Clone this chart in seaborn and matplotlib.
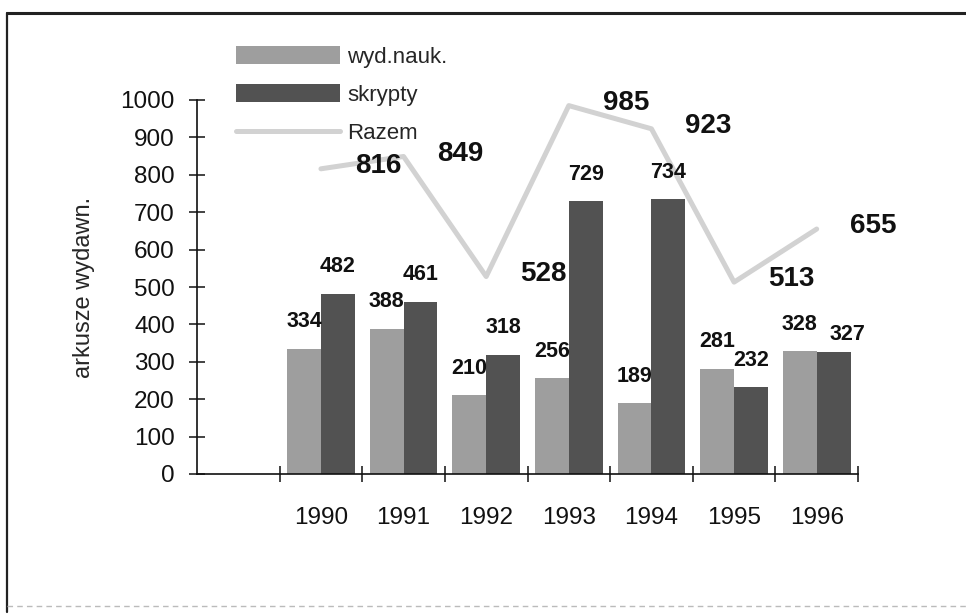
import matplotlib
matplotlib.use('Agg')
import numpy as np
import pandas as pd
import matplotlib.pyplot as plt
from matplotlib.lines import Line2D
import seaborn as sns

# values
years = ['1990', '1991', '1992', '1993', '1994', '1995', '1996']
wyd_nauk = [334, 388, 210, 256, 189, 281, 328]
skrypty = [482, 461, 318, 729, 734, 232, 327]
razem = [816, 849, 528, 985, 923, 513, 655]
series_names = ['wyd.nauk.', 'skrypty']
y_ticks = list(range(0, 1001, 100))

df = pd.DataFrame({
    'rok': years * 2,
    'seria': [series_names[0]] * len(years) + [series_names[1]] * len(years),
    'arkusze': wyd_nauk + skrypty,
})

sns.set_theme(style='white', rc={'axes.linewidth': 1.2})
plt.rcParams['font.family'] = ['Liberation Sans', 'DejaVu Sans']

W, H = 966, 614
fig = plt.figure(figsize=(W / 100, H / 100), dpi=100)
ax = fig.add_axes([197 / W, 1 - 474 / H, (858 - 197) / W, (474 - 100) / H])

sns.barplot(
    data=df, x='rok', y='arkusze', hue='seria', order=years,
    hue_order=series_names, palette=['#9e9e9e', '#525252'],
    saturation=1, width=0.82, errorbar=None, ax=ax, legend=True,
    linewidth=0,
)
label_sets = []
for cont in ax.containers:
    label_sets.append(ax.bar_label(cont, padding=12, fontsize=15.5,
                                   fontweight='bold', color='#111111'))
# the last dark label sits lower and to the right in the original
label_sets[1][-1].xyann = (10, 5)

pos = np.arange(len(years))
sns.lineplot(x=pos, y=razem, color='#cdcdcd', linewidth=3.6, alpha=0.9,
             label='Razem', ax=ax, zorder=1)
for x, v in zip(pos, razem):
    ax.annotate(str(v), (x, v), xytext=(41, 2), textcoords='offset points',
                ha='center', va='center', fontsize=20, fontweight='bold',
                color='#111111', annotation_clip=False)

ax.set_xlim(-1.5, len(years) - 0.5)
ax.set_ylim(0, 1000)
ax.set_yticks(y_ticks)
ax.set_xticks(pos)
ax.set_xticklabels(years)
ax.set_xticks(np.arange(-0.5, len(years), 1), minor=True)
ax.tick_params(axis='y', direction='inout', length=12, width=1.1, color='#111111',
               labelsize=17.5, pad=10, left=True)
ax.tick_params(axis='x', which='major', length=0, labelsize=17.5, pad=24, bottom=True)
ax.tick_params(axis='x', which='minor', direction='inout', length=12, width=1.1,
               color='#111111', bottom=True)
ax.set_xlabel('')
ax.set_ylabel('arkusze wydawn.', fontsize=17, labelpad=18)
for lab in ax.get_xticklabels():
    lab.set_color('#111111')
for lab in ax.get_yticklabels():
    lab.set_color('#111111')
sns.despine(ax=ax)
ax.spines['left'].set_color('#111111')
ax.spines['bottom'].set_color('#111111')
ax.grid(False)

ax.legend(loc='upper left', bbox_to_anchor=(236 / W, 1 - 46 / H),
          bbox_transform=fig.transFigure, frameon=False, fontsize=16,
          handlelength=4.7, handleheight=0.85, labelspacing=0.75,
          handletextpad=0.3, borderpad=0, borderaxespad=0)

# scanned page frame
def fx(px):
    return px / W

def fy(py):
    return 1 - py / H

fig.add_artist(Line2D([fx(7), fx(966)], [fy(13), fy(13)], color='#222222', lw=2.2,
                      transform=fig.transFigure))
fig.add_artist(Line2D([fx(7), fx(7)], [fy(13), fy(612)], color='#222222', lw=1.6,
                      transform=fig.transFigure))
fig.add_artist(Line2D([fx(7), fx(966)], [fy(606), fy(606)], color='#bbbbbb', lw=1.0,
                      ls=(0, (4, 3)), transform=fig.transFigure))

fig.savefig('out.png', dpi=100)
